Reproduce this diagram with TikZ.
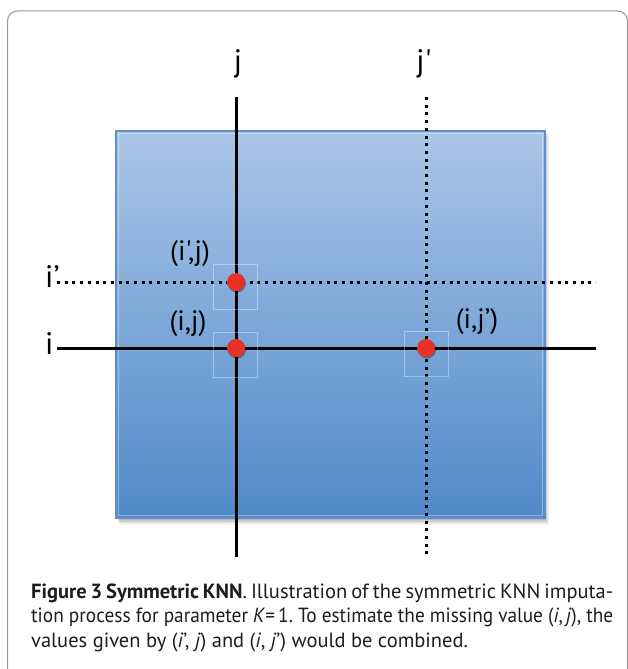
\documentclass[tikz,border=0pt]{standalone}
\usepackage{fontspec}
\setmainfont{PT Sans}
\newfontfamily\lblfont{PT Sans}[Ligatures=TeXOff]
\usetikzlibrary{shadows}
\frenchspacing
\definecolor{blueTop}{RGB}{170,198,232}
\definecolor{blueBot}{RGB}{80,137,200}
\definecolor{blueEdge}{RGB}{96,143,200}
\definecolor{ptred}{RGB}{232,50,40}
\definecolor{frameGray}{RGB}{150,150,150}
\definecolor{capText}{RGB}{30,28,28}
\tikzset{
  solidline/.style={line width=3pt, black},
  dotline/.style={line width=3pt, black, dash pattern=on 3pt off 4.7pt},
  ptdot/.style={circle, fill=ptred, minimum size=18pt, inner sep=0pt,
    drop shadow={shadow xshift=1pt, shadow yshift=-1.5pt, opacity=0.35, fill=black}},
  selbox/.style={draw=white, draw opacity=0.35, line width=0.8pt},
  axislabel/.style={font=\lblfont\fontsize{31}{31}\selectfont, inner sep=0pt},
  ptlabel/.style={font=\lblfont\fontsize{28}{28}\selectfont, inner sep=0pt},
  capline/.style={anchor=base west, inner sep=0pt, text=capText, font=\fontsize{20.5}{25}\selectfont}
}
\begin{document}
\begin{tikzpicture}[x=1pt,y=-1pt]
\useasboundingbox (0,0) rectangle (628,669);
\clip (0,0) rectangle (628,669);
% outer frame
\draw[frameGray, line width=1pt, rounded corners=10pt] (7.5,11) rectangle (627.5,700);
% shadow of the matrix
\foreach \o/\a in {6/0.05,4.5/0.07,3/0.09,1.5/0.1}{
  \fill[black, opacity=\a] (116+\o*0.6,131+\o*0.9) rectangle (545+\o*0.6,518+\o*1.2);
}
% matrix
\shade[top color=blueTop, bottom color=blueBot] (116,131) rectangle (545,518);
\draw[white, opacity=0.35, line width=0.8pt] (118.5,133.5) rectangle (542.5,515.5);
\draw[blueEdge, line width=1.5pt] (116,131) rectangle (545,518);
% line end points
\coordinate (jt) at (236,97);
\coordinate (jb) at (236,557);
\coordinate (jpt) at (426,97);
\coordinate (jpb) at (426,557);
\coordinate (il) at (57,348);
\coordinate (ir) at (596,348);
\coordinate (ipl) at (57,282);
\coordinate (ipr) at (596,282);
% lines
\draw[dotline] (jpt) -- (jpb);
\draw[dotline] (ipl) -- (ipr);
\draw[solidline] (jt) -- (jb);
\draw[solidline] (il) -- (ir);
% selection boxes
\draw[selbox] (213,264) rectangle (257,309);
\draw[selbox] (213,332) rectangle (257,377);
\draw[selbox] (404,331) rectangle (448,376);
% points
\node[ptdot] (pipj) at (236,282) {};
\node[ptdot] (pij) at (236,348) {};
\node[ptdot] (pijp) at (426,348) {};
% axis labels
\node[axislabel, anchor=base] (lj) at (238,71) {j};
\node[axislabel, anchor=base] (ljp) at (424,71) {j'};
\node[axislabel, anchor=base west] (lip) at (45,287) {i’};
\node[axislabel, anchor=base west] (li) at (45,354) {i};
% point labels
\node[ptlabel] (tipj) at (190,254) {(i',j)};
\node[ptlabel] (tij) at (188,324) {(i,j)};
\node[ptlabel] (tijp) at (477,322) {(i,j’)};
% caption
\node[capline] (cap1) at (31,598) {\makebox[582pt][s]{\textbf{Figure 3 Symmetric KNN}. Illustration of the symmetric KNN imputa-}};
\node[capline] (cap2) at (31,622) {\resizebox{582pt}{\height}{tion process for parameter \textit{K}=\,1. To estimate the missing value (\textit{i},\,\textit{j}), the}};
\node[capline] (cap3) at (31,647) {values given by (\textit{i}’, \textit{j}) and (\textit{i}, \textit{j}’) would be combined.};
\end{tikzpicture}
\end{document}
